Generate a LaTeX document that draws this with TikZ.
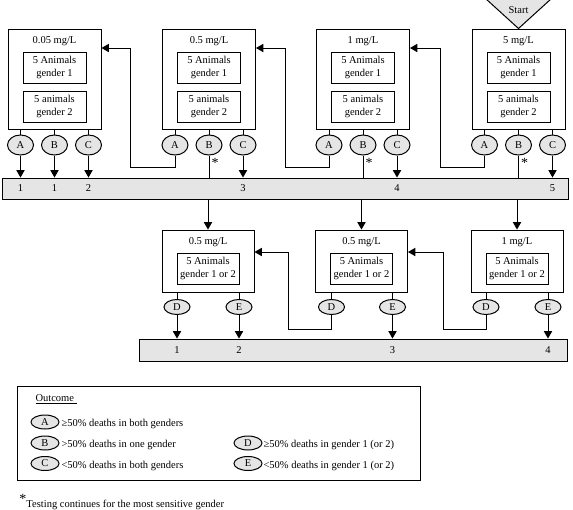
\documentclass[tikz,border=0pt]{standalone}
\usepackage{fontspec}
\setmainfont{Liberation Serif}
\usetikzlibrary{shapes,arrows}
\definecolor{panelgray}{gray}{0.9}
\begin{document}
\begin{tikzpicture}[%
    x=1pt, y=-1pt,              % one unit per pixel, y grows downwards
    >=triangle 60,              % filled arrow heads
    line width=1pt,
    every node/.style={font=\fontsize{10.5}{12.5}\selectfont},
    ]
% -------------------------------------------------
% Box styles
\tikzset{
  dose/.style={draw, rectangle, minimum width=93, minimum height=100, inner sep=0},
  dosesm/.style={draw, rectangle, minimum width=92, minimum height=62, inner sep=0},
  group/.style={draw, rectangle, align=center, minimum width=63, minimum height=31, inner sep=1pt},
  outc/.style={draw, ellipse, fill=panelgray, minimum width=26, minimum height=20, inner sep=0},
  outcsm/.style={outc, minimum height=15},
  key/.style={outc, minimum width=28, minimum height=14},
  bar/.style={draw, rectangle, fill=panelgray, inner sep=0},
  star/.style={inner sep=0, font=\fontsize{14}{14}\selectfont},
  txt/.style={inner sep=0, anchor=west}
}
\useasboundingbox (0,0) rectangle (573,509);
% -------------------------------------------------
% First round: both genders
\node [dose] (d1) at (54.5,79) {};
\node (d1t) at (54.5,41) {0.05 mg/L};
\node [group] (d1g1) at (54.5,67.5) {5 Animals\\gender 1};
\node [group] (d1g2) at (54.5,106.5) {5 animals\\gender 2};
\node [outc] (d1A) at (20.5,145) {A};
\node [outc] (d1B) at (54.5,145) {B};
\node [outc] (d1C) at (88.5,145) {C};

\node [dose] (d2) at (209,79) {};
\node (d2t) at (209,41) {0.5 mg/L};
\node [group] (d2g1) at (209,67.5) {5 Animals\\gender 1};
\node [group] (d2g2) at (209,106.5) {5 animals\\gender 2};
\node [outc] (d2A) at (175,145) {A};
\node [outc] (d2B) at (209,145) {B};
\node [outc] (d2C) at (243,145) {C};

\node [dose] (d3) at (363,79) {};
\node (d3t) at (363,41) {1 mg/L};
\node [group] (d3g1) at (363,67.5) {5 Animals\\gender 1};
\node [group] (d3g2) at (363,106.5) {5 animals\\gender 2};
\node [outc] (d3A) at (329,145) {A};
\node [outc] (d3B) at (363,145) {B};
\node [outc] (d3C) at (397,145) {C};

\node [dose] (d4) at (518.5,79) {};
\node (d4t) at (518.5,41) {5 mg/L};
\node [group] (d4g1) at (518.5,67.5) {5 Animals\\gender 1};
\node [group] (d4g2) at (518.5,106.5) {5 animals\\gender 2};
\node [outc] (d4A) at (484.5,145) {A};
\node [outc] (d4B) at (518.5,145) {B};
\node [outc] (d4C) at (552.5,145) {C};

% start marker
\draw [fill=panelgray] (d4.north) -- ++(-33,-30) -- ++(66,0) -- cycle;
\node (start) at (518.5,10) {Start};

\node [bar, minimum width=566, minimum height=21] (bar1) at (285,188.5) {};
\node (n1) at (d1A |- bar1) {1};
\node (n2) at (d1B |- bar1) {1};
\node (n3) at (d1C |- bar1) {2};
\node (n4) at (d2C |- bar1) {3};
\node (n5) at (d3C |- bar1) {4};
\node (n6) at (d4C |- bar1) {5};

% stems from the boxes
\foreach \d in {d1,d2,d3,d4}
  \foreach \o in {A,B,C}
    \draw (\d\o |- \d.south) -- (\d\o);

\draw [->] (d1A) -- (d1A |- bar1.north);
\draw [->] (d1B) -- (d1B |- bar1.north);
\draw [->] (d1C) -- (d1C |- bar1.north);
\draw [->] (d2C) -- (d2C |- bar1.north);
\draw [->] (d3C) -- (d3C |- bar1.north);
\draw [->] (d4C) -- (d4C |- bar1.north);
\draw (d2B) -- (d2B |- bar1.north);
\draw (d3B) -- (d3B |- bar1.north);
\draw (d4B) -- (d4B |- bar1.north);
\node [star] (s2) at (215,163) {*};
\node [star] (s3) at (369,163) {*};
\node [star] (s4) at (524.5,163) {*};

% step down to the next dose
\coordinate (r1) at (130,167); \coordinate (r1t) at (130,48);
\coordinate (r2) at (285,167); \coordinate (r2t) at (285,48);
\coordinate (r3) at (440,167); \coordinate (r3t) at (440,48);
\draw [->] (d2A) |- (r1) -- (r1t) -- (r1t -| d1.east);
\draw [->] (d3A) |- (r2) -- (r2t) -- (r2t -| d2.east);
\draw [->] (d4A) |- (r3) -- (r3t) -- (r3t -| d3.east);

% -------------------------------------------------
% Second round: most sensitive gender
\node [dosesm] (e1) at (208,261) {};
\node (e1t) at (208,242) {0.5 mg/L};
\node [group, minimum width=62] (e1g) at (208,268.5) {5 Animals\\gender 1 or 2};
\node [outcsm] (e1D) at (177,307) {D};
\node [outcsm] (e1E) at (239,307) {E};

\node [dosesm] (e2) at (361.5,261) {};
\node (e2t) at (361.5,242) {0.5 mg/L};
\node [group, minimum width=62] (e2g) at (361.5,268.5) {5 Animals\\gender 1 or 2};
\node [outcsm] (e2D) at (331.5,307) {D};
\node [outcsm] (e2E) at (392.5,307) {E};

\node [dosesm] (e3) at (517,261) {};
\node (e3t) at (517,242) {1 mg/L};
\node [group, minimum width=62] (e3g) at (517,268.5) {5 Animals\\gender 1 or 2};
\node [outcsm] (e3D) at (486,307) {D};
\node [outcsm] (e3E) at (548,307) {E};

\draw [->] (bar1.south -| e1) -- (e1.north);
\draw [->] (bar1.south -| e2) -- (e2.north);
\draw [->] (bar1.south -| e3) -- (e3.north);

\node [bar, minimum width=428, minimum height=22] (bar2) at (353,350) {};
\node (m1) at (e1D |- bar2) {1};
\node (m2) at (e1E |- bar2) {2};
\node (m3) at (e2E |- bar2) {3};
\node (m4) at (e3E |- bar2) {4};

\foreach \e in {e1,e2,e3}
  \foreach \o in {D,E}
    \draw (\e\o |- \e.south) -- (\e\o);

\draw [->] (e1D) -- (e1D |- bar2.north);
\draw [->] (e1E) -- (e1E |- bar2.north);
\draw [->] (e2E) -- (e2E |- bar2.north);
\draw [->] (e3E) -- (e3E |- bar2.north);

\coordinate (q1) at (288,329); \coordinate (q1t) at (288,252);
\coordinate (q2) at (443,329); \coordinate (q2t) at (443,252);
\draw [->] (e2D) |- (q1) -- (q1t) -- (q1t -| e1.east);
\draw [->] (e3D) |- (q2) -- (q2t) -- (q2t -| e2.east);

% -------------------------------------------------
% Key
\node [draw, rectangle, minimum width=403, minimum height=94, inner sep=0] (legend) at (218.5,433) {};
\node [txt] (ktitle) at (35,399) {\underline{Outcome\,\,}};
\node [key] (kA) at (45,422) {A};
\node [key] (kB) at (45,443) {B};
\node [key] (kC) at (45,463.5) {C};
\node [key] (kD) at (248,443) {D};
\node [key] (kE) at (248,463.5) {E};
\node [txt] (tA) at (61,424) {≥50\% deaths in both genders};
\node [txt] (tB) at (61,445) {>50\% deaths in one gender};
\node [txt] (tC) at (61,465.5) {<50\% deaths in both genders};
\node [txt] (tD) at (263,445) {≥50\% deaths in gender 1 (or 2)};
\node [txt] (tE) at (263,465.5) {<50\% deaths in gender 1 (or 2)};

\node [txt] (note) at (19,502) {\raisebox{3.5pt}{\fontsize{14}{14}\selectfont *}Testing continues for the most sensitive gender};
% -------------------------------------------------
\end{tikzpicture}
\end{document}
